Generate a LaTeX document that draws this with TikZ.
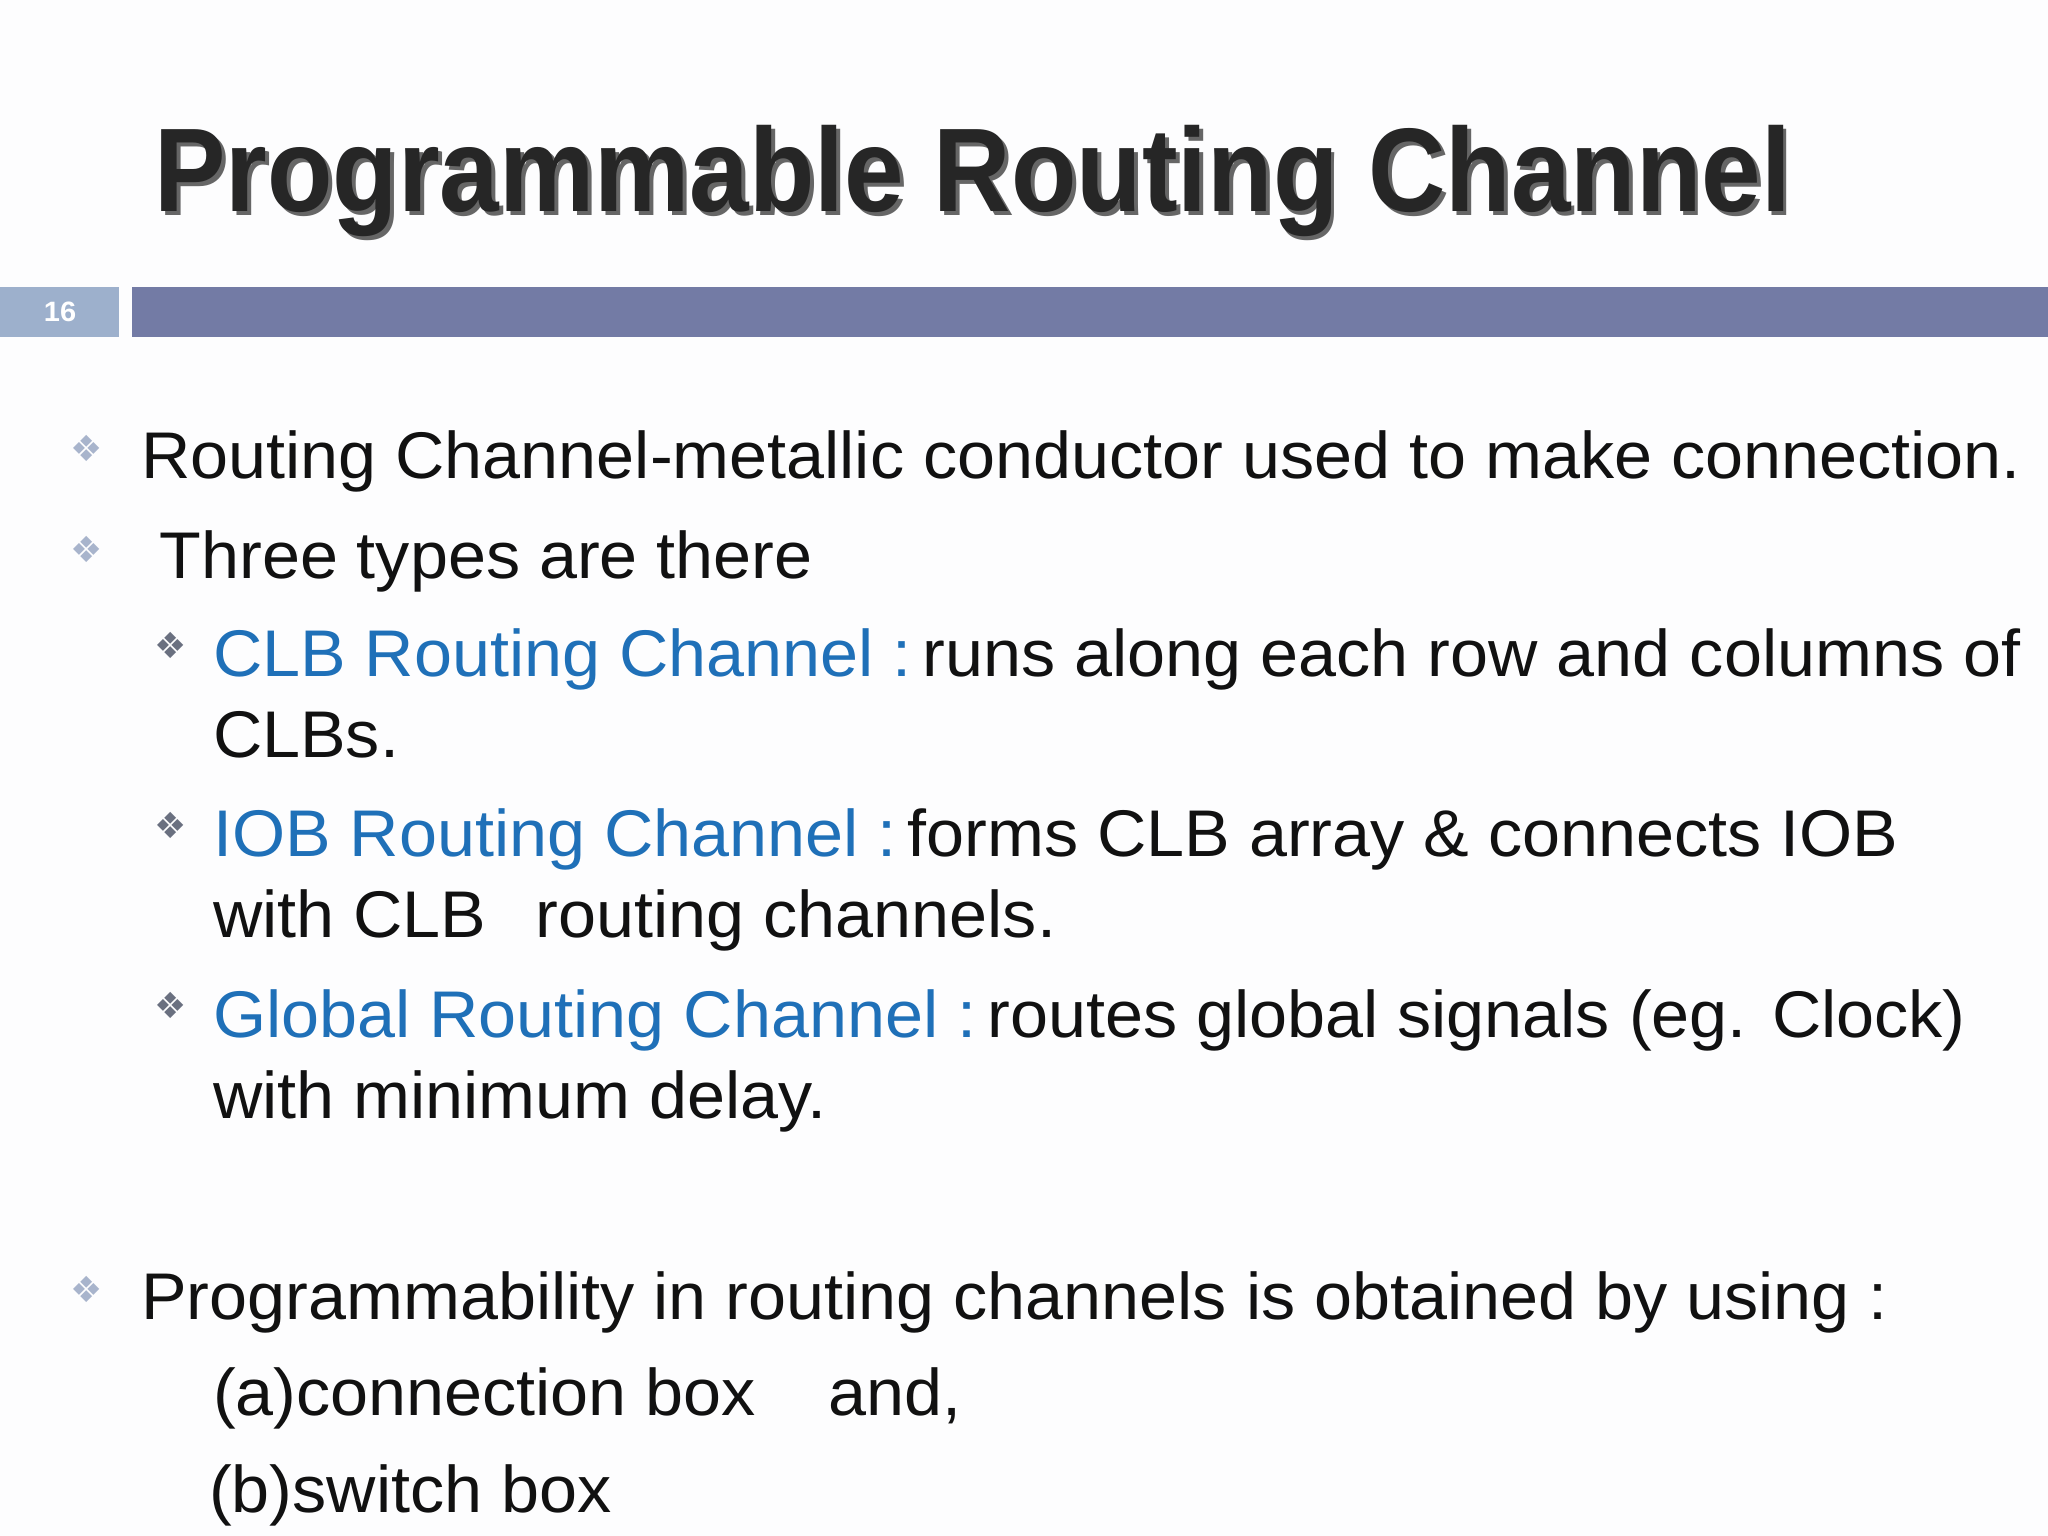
\documentclass[tikz,border=0pt]{standalone}
\usepackage{fontspec}
\setmainfont[FakeStretch=1.035]{Liberation Sans}
\newfontfamily\titlefont[FakeStretch=0.9]{Liberation Sans}
\newfontfamily\symfont{DejaVu Sans}
\definecolor{bgc}{HTML}{FDFDFE}
\definecolor{barc}{HTML}{737BA5}
\definecolor{boxc}{HTML}{9DB0CC}
\definecolor{bluec}{HTML}{1F70B8}
\definecolor{bulc}{HTML}{A8B4CC}
\definecolor{darkbul}{HTML}{6A7080}
\definecolor{txt}{HTML}{111111}
\tikzset{
 body/.style={anchor=base west,inner sep=0pt,font=\fontsize{66}{66}\selectfont,text=txt},
 bul/.style={anchor=center,inner sep=0pt,font=\symfont\fontsize{36}{36}\selectfont,text=bulc},
 subbul/.style={anchor=center,inner sep=0pt,font=\symfont\fontsize{36}{36}\selectfont,text=darkbul},
}
\begin{document}
\begin{tikzpicture}[x=1.306pt,y=-1.306pt]
\fill[bgc] (0,0) rectangle (1568,1176);
\useasboundingbox (0,0) rectangle (1568,1176);
% title with shadow
\node[anchor=base west,inner sep=0pt,font=\titlefont\bfseries\fontsize{119}{119}\selectfont,text=black!60] (tshadow) at (121,165) {Programmable Routing Channel};
\node[anchor=base west,inner sep=0pt,font=\titlefont\bfseries\fontsize{119}{119}\selectfont,text=black!85] (title) at (118,162) {Programmable Routing Channel};
% bars
\fill[boxc] (0,220) rectangle (91,258);
\node[font=\bfseries\fontsize{28}{28}\selectfont,text=white] (num) at (46,239) {16};
\fill[barc] (101,220) rectangle (1568,258);
% bullets
\node[bul] (b1) at (66,343) {❖};
\node[body] (l1) at (108,366) {Routing Channel-metallic conductor used to make connection.};
\node[bul] (b2) at (66,421) {❖};
\node[body] (l2) at (122,443) {Three types are there};
\node[subbul] (s1) at (131,494) {❖};
\node[body] (l3) at (163,518) {\textcolor{bluec}{CLB Routing Channel :}\,runs along each row and columns of};
\node[body] (l3b) at (163,580) {CLBs.};
\node[subbul] (s2) at (131,632) {❖};
\node[body] (l4) at (163,656) {\textcolor{bluec}{IOB Routing Channel :}\,forms CLB array \& connects IOB};
\node[body] (l4b) at (163,718) {with CLB\hspace{0.75em}routing channels.};
\node[subbul] (s3) at (131,770) {❖};
\node[body] (l5) at (163,794) {\textcolor{bluec}{Global Routing Channel :}\,routes global signals (eg. Clock)};
\node[body] (l5b) at (163,856) {with minimum delay.};
\node[bul] (b3) at (66,987) {❖};
\node[body] (l6) at (108,1010) {Programmability in routing channels is obtained by using :};
\node[body] (l7) at (163,1084) {(a)connection box\hspace{1.1em}and,};
\node[body] (l8) at (160,1158) {(b)switch box};
\end{tikzpicture}
\end{document}
